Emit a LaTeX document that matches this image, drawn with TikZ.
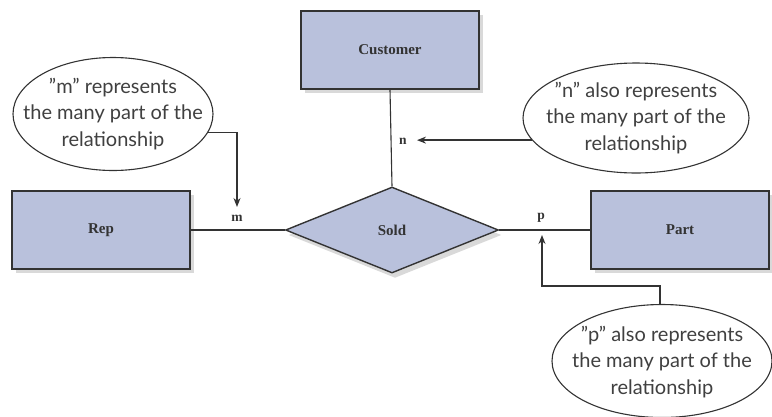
\documentclass[tikz,border=0pt]{standalone}
\usepackage{fontspec}
\usetikzlibrary{shapes.geometric,shadows,arrows.meta}
\newfontfamily\notefont{Lato}
\newfontfamily\boxfont{Liberation Serif}
\definecolor{entfill}{HTML}{B9C1DC}
\definecolor{edge}{HTML}{333333}
\definecolor{notetext}{HTML}{404040}
\tikzset{
  entity/.style={draw=edge, line width=1.4pt, fill=entfill, minimum width=178pt, minimum height=78pt, inner sep=0pt,
    font=\boxfont\bfseries\fontsize{15}{17}\selectfont, text=edge,
    drop shadow={shadow xshift=4pt, shadow yshift=-4pt, opacity=0.25, fill=black!60}},
  relship/.style={diamond, draw=edge, line width=1.4pt, fill=entfill, minimum width=213pt, minimum height=86pt, inner sep=0pt,
    font=\boxfont\bfseries\fontsize{15}{17}\selectfont, text=edge,
    drop shadow={shadow xshift=3pt, shadow yshift=-5pt, opacity=0.25, fill=black!60}},
  note/.style={ellipse, draw=edge, line width=1.1pt, fill=white, inner sep=0pt},
  notetxt/.style={align=center, inner sep=0pt,
    font=\notefont\fontsize{20}{26.5}\selectfont, text=notetext},
  card/.style={font=\boxfont\bfseries\fontsize{13.5}{15}\selectfont, text=edge, inner sep=0pt},
  link/.style={draw=edge, line width=1.1pt},
  arr/.style={draw=edge, line width=1.3pt, -{Stealth[length=9pt,width=7pt]}}
}
\begin{document}
\begin{tikzpicture}[x=1pt,y=-1pt]
\useasboundingbox (0,0) rectangle (772,416);
% entities
\node[entity] (cust) at (390,50) {Customer};
\node[entity] (rep) at (101,230) {Rep};
\node[entity] (part) at (680,230) {Part};
\node[relship] (sold) at (392,230) {Sold};
% connectors
\draw[link] (cust.south) -- (sold.north);
\draw[link] (rep.east) -- (sold.west);
\draw[link] (sold.east) -- (part.west);
% cardinality labels
\node[card] (mlab) at (237,218) {m};
\node[card] (nlab) at (403,141) {n};
\node[card] (plab) at (541,218) {p};
% notes
\node[note, minimum width=200pt, minimum height=113pt] (em) at (113,114) {};
\node[notetxt] (emt) at (em.center) {”m” represents\\the many part of the\\relationship};
\node[note, minimum width=226pt, minimum height=110pt] (en) at (636,118) {};
\node[notetxt] (ent) at (en.center) {”n” also represents\\the many part of the\\relationship};
\node[note, minimum width=220pt, minimum height=113pt] (ep) at (662,361) {};
\node[notetxt] (ept) at ([yshift=-1pt]ep.center) {”p” also represents\\the many part of the\\relationship};
% arrows
\coordinate (mtip) at (237,207);
\coordinate (ntip) at (417,140);
\coordinate (pbend) at (660,286);
\coordinate (ptip) at (542,235);
\draw[arr] (em.-11) -| (mtip);
\draw[arr] (en.192) -- (en.192 -| ntip);
\draw[arr] (ep.north -| pbend) -- (pbend) -| (ptip);
\end{tikzpicture}
\end{document}
